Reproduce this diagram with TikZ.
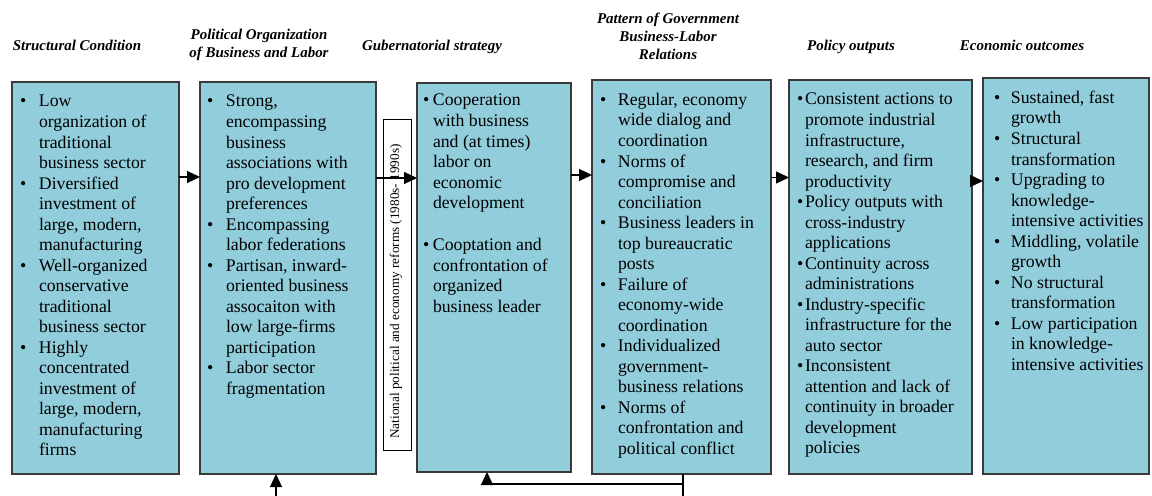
\documentclass[tikz,border=0pt]{standalone}
\usepackage{fontspec}
\setmainfont{Liberation Serif}
\usetikzlibrary{arrows.meta}
\definecolor{boxblue}{HTML}{92CDDC}
\definecolor{boxedge}{HTML}{3A3A3A}
\newlength{\bulw}
\newcommand{\Bul}[1]{\makebox[\bulw][l]{\textbullet}#1}
\newcommand{\Con}[1]{\hspace*{\bulw}#1}
\begin{document}
\begin{tikzpicture}[x=1bp,y=-1bp,
  box/.style={draw=boxedge, line width=1.3bp, fill=boxblue, inner sep=0pt, outer sep=0pt},
  nbox/.style={draw=black, line width=1bp, fill=white, inner sep=0pt, outer sep=0pt},
  body/.style={inner sep=0pt, outer sep=0pt, anchor=north west, align=left, font=\fontsize{17.8}{20.6}\selectfont},
  head/.style={inner sep=0pt, anchor=north, align=center, font=\fontsize{15}{18}\selectfont\bfseries\itshape},
  arr/.style={line width=1.1bp, -{Triangle[length=13bp,width=12bp]}},
  conn/.style={line width=1.1bp}]
\useasboundingbox (0,0) rectangle (1152,496);

% headers
\node[head] (h1) at (77,37.9) {\strut Structural Condition};
\node[head] (h2) at (259,26.4) {\strut Political Organization\\of Business and Labor};
\node[head] (h3) at (432,37.9) {\strut Gubernatorial strategy};
\node[head] (h4) at (668,10.9) {\strut Pattern of Government\\Business-Labor\\Relations};
\node[head] (h5) at (851,37.9) {\strut Policy outputs};
\node[head] (h6) at (1022,37.9) {\strut Economic outcomes};

% boxes
\node[box, minimum width=167bp, minimum height=392bp] (b1) at (95.5,278) {};
\node[box, minimum width=176bp, minimum height=392bp] (b2) at (288,278) {};
\node[nbox, minimum width=28bp, minimum height=330bp] (nb) at (397,285) {};
\node[box, minimum width=154bp, minimum height=389bp] (b3) at (494,277.5) {};
\node[box, minimum width=179bp, minimum height=394bp] (b4) at (681.5,277) {};
\node[box, minimum width=183bp, minimum height=394bp] (b5) at (880.5,277) {};
\node[box, minimum width=166bp, minimum height=396bp] (b6) at (1066,276) {};

\node[rotate=90, inner sep=0pt, font=\fontsize{13.3}{15}\selectfont] (vt) at (396,291.5)
  {National political and economy reforms (1980s- 1990s)};

% box texts
\node[body] (t1) at (20,92.6) {\global\bulw=19bp\relax\Bul{\strut Low}\\
\Con{organization of}\\
\Con{traditional}\\
\Con{business sector}\\
\Bul{Diversified}\\
\Con{investment of}\\
\Con{large, modern,}\\
\Con{manufacturing}\\
\Bul{Well-organized}\\
\Con{conservative}\\
\Con{traditional}\\
\Con{business sector}\\
\Bul{Highly}\\
\Con{concentrated}\\
\Con{investment of}\\
\Con{large, modern,}\\
\Con{manufacturing}\\
\Con{firms}};

\node[body] (t2) at (207,92.6) {\global\bulw=19bp\relax\Bul{\strut Strong,}\\
\Con{encompassing}\\
\Con{business}\\
\Con{associations with}\\
\Con{pro development}\\
\Con{preferences}\\
\Bul{Encompassing}\\
\Con{labor federations}\\
\Bul{Partisan, inward-}\\
\Con{oriented business}\\
\Con{assocaiton with}\\
\Con{low large-firms}\\
\Con{participation}\\
\Bul{Labor sector}\\
\Con{fragmentation}};

\node[body] (t3) at (423,91.6) {\global\bulw=10bp\relax\Bul{\strut Cooperation}\\
\Con{with business}\\
\Con{and (at times)}\\
\Con{labor on}\\
\Con{economic}\\
\Con{development}\\[21.4bp]
\Bul{Cooptation and}\\
\Con{confrontation of}\\
\Con{organized}\\
\Con{business leader}};

\node[body] (t4) at (600,91.1) {\global\bulw=18bp\relax\Bul{\strut Regular, economy}\\
\Con{wide dialog and}\\
\Con{coordination}\\
\Bul{Norms of}\\
\Con{compromise and}\\
\Con{conciliation}\\
\Bul{Business leaders in}\\
\Con{top bureaucratic}\\
\Con{posts}\\
\Bul{Failure of}\\
\Con{economy-wide}\\
\Con{coordination}\\
\Bul{Individualized}\\
\Con{government-}\\
\Con{business relations}\\
\Bul{Norms of}\\
\Con{confrontation and}\\
\Con{political conflict}};

\node[body] (t5) at (797,90.6) {\global\bulw=8bp\relax\Bul{\strut Consistent actions to}\\
\Con{promote industrial}\\
\Con{infrastructure,}\\
\Con{research, and firm}\\
\Con{productivity}\\
\Bul{Policy outputs with}\\
\Con{cross-industry}\\
\Con{applications}\\
\Bul{Continuity across}\\
\Con{administrations}\\
\Bul{Industry-specific}\\
\Con{infrastructure for the}\\
\Con{auto sector}\\
\Bul{Inconsistent}\\
\Con{attention and lack of}\\
\Con{continuity in broader}\\
\Con{development}\\
\Con{policies}};

\node[body] (t6) at (994,89.1) {\global\bulw=17bp\relax\Bul{\strut Sustained, fast}\\
\Con{growth}\\
\Bul{Structural}\\
\Con{transformation}\\
\Bul{Upgrading to}\\
\Con{knowledge-}\\
\Con{intensive activities}\\
\Bul{Middling, volatile}\\
\Con{growth}\\
\Bul{No structural}\\
\Con{transformation}\\
\Bul{Low participation}\\
\Con{in knowledge-}\\
\Con{intensive activities}};

% horizontal connectors
\coordinate (y1) at (0,177);
\coordinate (y2) at (0,178);
\coordinate (y3) at (0,175);
\coordinate (y4) at (0,177.5);
\coordinate (y5) at (0,181);
\draw[arr] (b1.east |- y1) -- (b2.west |- y1);
\draw[arr] (b2.east |- y2) -- (b3.west |- y2);
\draw[arr] (b3.east |- y3) -- (b4.west |- y3);
\draw[arr] (b4.east |- y4) -- (b5.west |- y4);
\draw[arr] (b5.east |- y5) -- (b6.west |- y5);

% bottom connectors
\coordinate (in1) at (276,496);
\draw[arr] (in1) -- (in1 |- b2.south);
\coordinate (fbb) at (683,496);
\coordinate (fbh) at (683,484);
\coordinate (fbe) at (487,484);
\draw[conn] (fbb) -- (fbb |- b4.south);
\draw[arr] (fbh) -- (fbe) -- (fbe |- b3.south);
\end{tikzpicture}
\end{document}
